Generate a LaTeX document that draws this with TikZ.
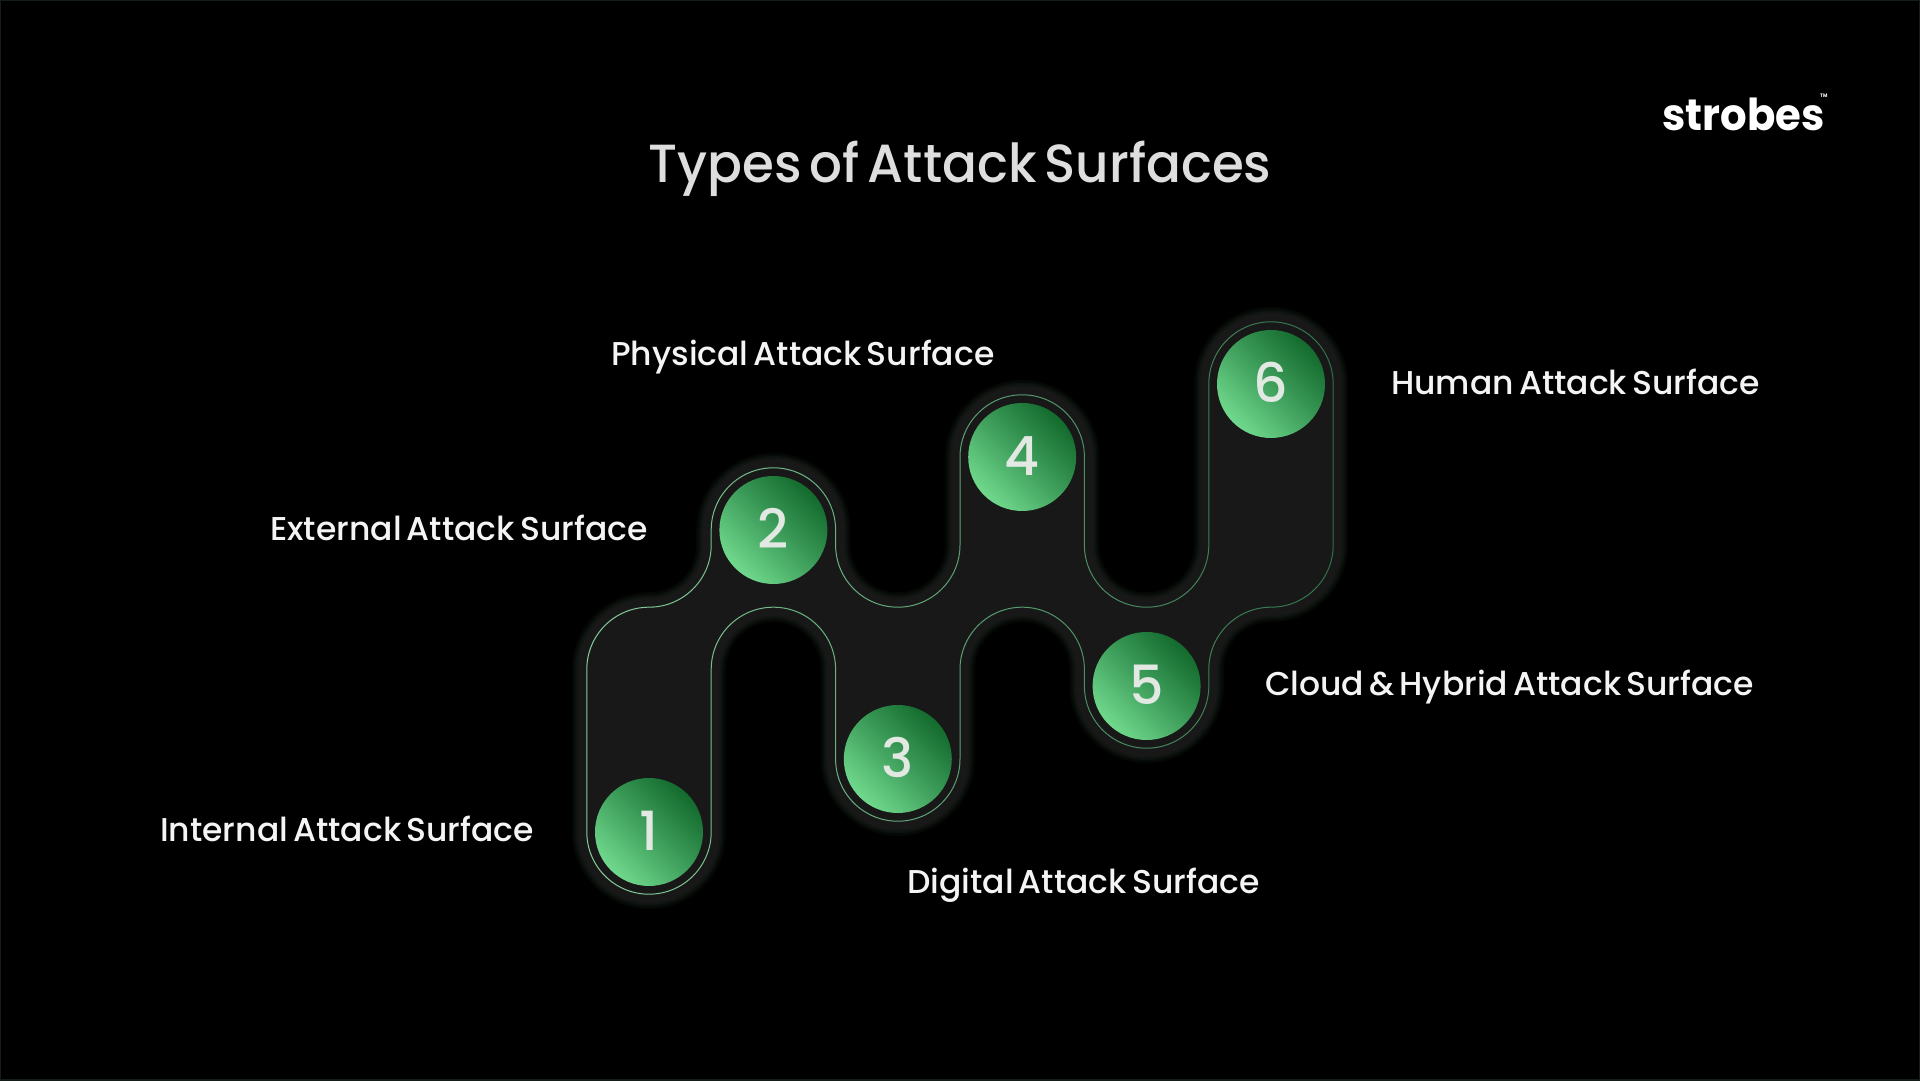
\documentclass[tikz,border=0pt]{standalone}
\usepackage{fontspec}
\setmainfont{Poppins}
\newfontfamily\labfont[FakeStretch=1.0,WordSpace=0.6]{Poppins Medium}
\newfontfamily\titlefont[FakeStretch=0.96,WordSpace=0.6]{Poppins Medium}
\newfontfamily\logofont[FakeStretch=0.95,BoldFont=* Bold]{Poppins}
\definecolor{bodyfill}{HTML}{181818}
\definecolor{linelight}{HTML}{85CF9C}
\definecolor{linedark}{HTML}{2C6B45}
\definecolor{labeltext}{HTML}{F4F4F4}
\definecolor{titletext}{HTML}{DEDEDE}
\definecolor{digittext}{HTML}{E2E8E2}
\definecolor{ball1}{HTML}{70D98D}
\definecolor{ball2}{HTML}{3F9F5C}
\definecolor{ball3}{HTML}{136B2D}
\definecolor{glowa}{HTML}{040704}
\definecolor{glowb}{HTML}{070B08}
\definecolor{glowc}{HTML}{0C110D}
\definecolor{glowd}{HTML}{111612}
\definecolor{edgeline}{HTML}{141D18}
\pgfdeclareverticalshading{ballshade}{100bp}{
  color(0bp)=(ball1); color(25bp)=(ball1); color(50bp)=(ball2); color(75bp)=(ball3); color(100bp)=(ball3)}
\tikzset{
  x=1pt,y=1pt,
  ball/.style={circle,minimum size=108pt,inner sep=0pt,shading=ballshade,shading angle=-45,
    text=digittext,font=\labfont\fontsize{54}{54}\selectfont},
  lab/.style={anchor=base west,inner sep=0pt,text=labeltext,font=\labfont\fontsize{33}{33}\selectfont},
}
\newcommand{\digit}[1]{\raisebox{2.5pt}{#1}}
\newcommand{\snake}{
  (586.8,410.6) arc[start angle=180,end angle=90,radius=62.2pt]
  arc[start angle=-90,end angle=0,radius=62.2pt]
  -- (711.2,550) arc[start angle=180,end angle=0,radius=62.2pt]
  -- (835.6,535) arc[start angle=180,end angle=360,radius=62.2pt]
  -- (960,623) arc[start angle=180,end angle=0,radius=62.2pt]
  -- (1084.4,535) arc[start angle=180,end angle=360,radius=62.2pt]
  -- (1208.8,696) arc[start angle=180,end angle=0,radius=62.2pt]
  -- (1333.2,535) arc[start angle=0,end angle=-90,radius=62.2pt]
  arc[start angle=90,end angle=180,radius=62.2pt]
  -- (1208.8,394) arc[start angle=0,end angle=-180,radius=62.2pt]
  -- (1084.4,410.6) arc[start angle=0,end angle=180,radius=62.2pt]
  -- (960,321) arc[start angle=0,end angle=-180,radius=62.2pt]
  -- (835.6,410.6) arc[start angle=0,end angle=180,radius=62.2pt]
  -- (711.2,248) arc[start angle=0,end angle=-180,radius=62.2pt]
  -- cycle}
\begin{document}
\begin{tikzpicture}
\useasboundingbox (0,0) rectangle (1920,1080);
\fill[black] (0,0) rectangle (1920,1080);
\draw[edgeline,line width=2pt] (0,0) rectangle (1920,1080);
% glow
\draw[line join=round,line width=30pt,color=glowa] \snake;
\draw[line join=round,line width=27pt,color=glowb] \snake;
\draw[line join=round,line width=24pt,color=glowc] \snake;
\draw[line join=round,line width=21pt,color=glowd] \snake;
\fill[bodyfill,draw=bodyfill,line join=round,line width=17pt] \snake;
% hairline outline
\foreach \i in {0,...,19}{
  \pgfmathsetmacro{\pct}{100-\i*5}
  \begin{scope}
    \clip ({575+\i*39},170) rectangle ({575+(\i+1)*39},780);
    \draw[line width=1pt,color=linelight!\pct!linedark] \snake;
  \end{scope}
}
% balls
\node[ball] (n1) at (649,248) {\digit{1}};
\node[ball] (n2) at (773.4,550) {\digit{2}};
\node[ball] (n3) at (897.8,321) {\digit{3}};
\node[ball] (n4) at (1022.2,623) {\digit{4}};
\node[ball] (n5) at (1146.6,394) {\digit{5}};
\node[ball] (n6) at (1271,696) {\digit{6}};
% labels
\node[lab] (l1) at (160,238.5) {Internal Attack Surface};
\node[lab] (l2) at (270,539) {External Attack Surface};
\node[lab] (l3) at (907,187) {Digital Attack Surface};
\node[lab] (l4) at (611,714) {Physical Attack Surface};
\node[lab] (l5) at (1265,384) {Cloud \& Hybrid Attack Surface};
\node[lab] (l6) at (1391,685) {Human Attack Surface};
% title and logo
\node[anchor=base,inner sep=0pt,text=titletext,font=\titlefont\fontsize{53.7}{54}\selectfont] (title) at (960,897.5) {Types of Attack Surfaces};
\node[anchor=base west,inner sep=0pt,text=white,font=\logofont\bfseries\fontsize{44}{44}\selectfont] (logo) at (1662,949) {strobes};
\node[anchor=base west,inner sep=0pt,text=white,font=\logofont\bfseries\fontsize{5}{5}\selectfont] (tm) at (1820,982) {TM};
\end{tikzpicture}
\end{document}
